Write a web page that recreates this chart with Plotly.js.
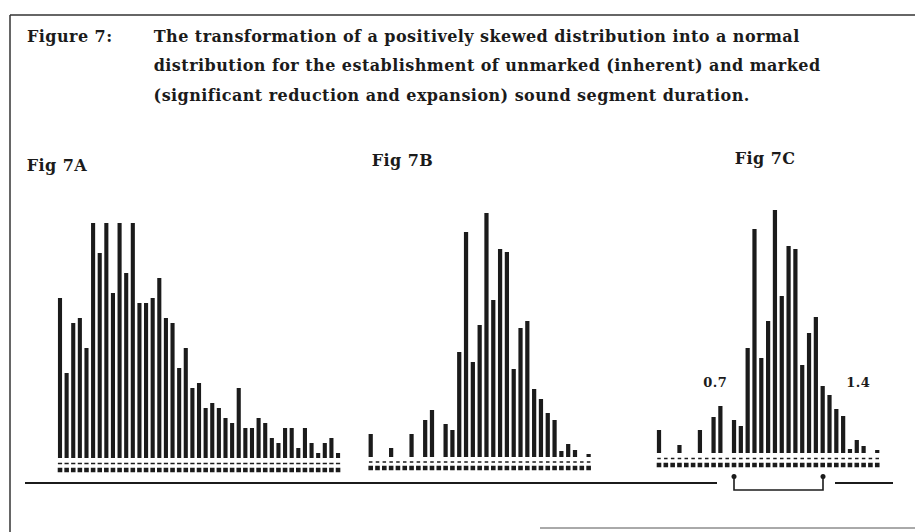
<!DOCTYPE html>
<html>
<head>
<meta charset="utf-8">
<script src="https://cdn.plot.ly/plotly-3.0.1.min.js"></script>
<style>
html,body{margin:0;padding:0;background:#fff;}
#chart{width:915px;height:532px;}
#chart .annotation-text{letter-spacing:0.45px;}
</style>
</head>
<body>
<div id="chart"></div>
<script>
// ---- Data (heights in relative frequency units) ----
const figATitle = "Fig 7A";
const figBTitle = "Fig 7B";
const figCTitle = "Fig 7C";
const captionLabel = "Figure 7:";
const captionLines = [
  "The transformation of a positively skewed distribution into a normal",
  "distribution for the establishment of unmarked (inherent) and marked",
  "(significant reduction and expansion) sound segment duration."
];
// Fig 7A: raw (positively skewed) duration distribution, 43 bins
const figABins = Array.from({length: 43}, (_, i) => i + 1);
const figAValues = [32,17,27,28,22,47,41,47,33,47,37,47,31,31,32,36,28,27,18,22,14,15,10,11,10,8,7,14,6,6,8,7,4,3,6,6,2,6,3,1,3,4,1];
// Fig 7B: transformed (normal) distribution, 33 bins
const figBBins = Array.from({length: 33}, (_, i) => i + 1);
const figBValues = [4.6,0,0,1.8,0,0,4.6,0,7.4,9.4,0,6.6,5.4,21,45,19,26.4,48.8,31.4,41.6,41,17.6,25.8,27.2,13.6,11.6,8.8,7.4,1.2,2.6,1.4,0,0.6];
// Fig 7C: same transformed distribution with marked-duration boundaries
const figCBins = Array.from({length: 33}, (_, i) => i + 1);
const figCValues = [4.6,0,0,1.6,0,0,4.6,0,7.2,9.4,0,6.6,5.4,21,44.8,19,26.4,48.6,31.4,41.4,40.8,17.6,24,27.2,13.4,11.6,8.8,7.4,0.8,2.6,1.4,0,0.6];
const lowerBoundLabel = "0.7";
const upperBoundLabel = "1.4";

// ---- helpers: pixel -> paper ----
const W = 915, H = 532;
const px = x => x / W;
const py = y => 1 - y / H;
const ink = "#1b1b1b";
const LS = 0.45; // css letter-spacing used on annotation text

function barTrace(bins, vals, xa, ya) {
  return {type: "bar", x: bins, y: vals, xaxis: xa, yaxis: ya,
    marker: {color: ink, line: {width: 0}}, hoverinfo: "x+y"};
}
function dotRow(bins, level, xa, ya, sym, size) {
  return {type: "scatter", mode: "markers", x: bins, y: bins.map(() => level),
    xaxis: xa, yaxis: ya, hoverinfo: "skip",
    marker: {symbol: sym, size: size, color: ink, line: {color: ink, width: 1.4}}};
}

const traces = [
  barTrace(figABins, figAValues, "x", "y"),
  dotRow(figABins, -1.1, "x", "y", "line-ew", 3),
  dotRow(figABins, -2.4, "x", "y", "square", 3.2),
  barTrace(figBBins, figBValues, "x2", "y2"),
  dotRow(figBBins, -1.0, "x2", "y2", "line-ew", 2.5),
  dotRow(figBBins, -2.2, "x2", "y2", "square", 3.2),
  barTrace(figCBins, figCValues, "x3", "y3"),
  dotRow(figCBins, -1.1, "x3", "y3", "line-ew", 2.5),
  dotRow(figCBins, -2.4, "x3", "y3", "square", 3.2)
];

const hidden = {showgrid: false, zeroline: false, showticklabels: false, showline: false, ticks: "", fixedrange: true};
// axis geometry: 5 px per unit, range [-4, 50]
function yDom(baseline) { return [py(baseline + 20), py(baseline - 250)]; }
function xDom(first, step, n) { return [px(first - step / 2), px(first + (n - 0.5) * step)]; }

const layout = {
  width: W, height: H,
  margin: {l: 0, r: 0, t: 0, b: 0, pad: 0},
  paper_bgcolor: "#fff", plot_bgcolor: "rgba(0,0,0,0)",
  showlegend: false,
  barmode: "group",
  bargap: 0.38,
  xaxis: Object.assign({}, hidden, {domain: xDom(60, 6.62, 43), range: [0.5, 43.5], anchor: "y"}),
  yaxis: Object.assign({}, hidden, {domain: yDom(458), range: [-4, 50], anchor: "x"}),
  xaxis2: Object.assign({}, hidden, {domain: xDom(370.7, 6.81, 33), range: [0.5, 33.5], anchor: "y2"}),
  yaxis2: Object.assign({}, hidden, {domain: yDom(457), range: [-4, 50], anchor: "x2"}),
  xaxis3: Object.assign({}, hidden, {domain: xDom(659, 6.82, 33), range: [0.5, 33.5], anchor: "y3"}),
  yaxis3: Object.assign({}, hidden, {domain: yDom(453), range: [-4, 50], anchor: "x3"}),
  font: {family: "DejaVu Serif, Liberation Serif, serif", color: ink},
  shapes: [
    // frame
    {type: "line", xref: "paper", yref: "paper", x0: px(10), x1: px(10), y0: py(15), y1: py(532), line: {color: "#333", width: 1.5}},
    {type: "line", xref: "paper", yref: "paper", x0: px(10), x1: px(915), y0: py(15), y1: py(15), line: {color: "#333", width: 1.5}},
    {type: "line", xref: "paper", yref: "paper", x0: px(540), x1: px(915), y0: py(528), y1: py(528), line: {color: "#555", width: 1}},
    // duration axis line
    {type: "line", xref: "paper", yref: "paper", x0: px(25), x1: px(717), y0: py(483), y1: py(483), line: {color: ink, width: 2}},
    {type: "line", xref: "paper", yref: "paper", x0: px(835), x1: px(893), y0: py(483), y1: py(483), line: {color: ink, width: 2}},
    // bracket for unmarked range
    {type: "path", xref: "paper", yref: "paper",
     path: `M ${px(734)} ${py(477)} L ${px(734)} ${py(490)} L ${px(823)} ${py(490)} L ${px(823)} ${py(477)}`,
     line: {color: ink, width: 1.6}},
    {type: "circle", xref: "paper", yref: "paper", x0: px(731.5), x1: px(736.5), y0: py(474), y1: py(479), fillcolor: ink, line: {width: 0}},
    {type: "circle", xref: "paper", yref: "paper", x0: px(820.5), x1: px(825.5), y0: py(474), y1: py(479), fillcolor: ink, line: {width: 0}}
  ],
  annotations: []
};

// left-anchored text; shift compensates the css letter-spacing not seen by plotly's centring
const ann = (text, x, y, size, opts) => Object.assign({
  text: text, xref: "paper", yref: "paper", x: px(x + text.length * LS / 2), y: py(y),
  xanchor: "left", yanchor: "middle", showarrow: false,
  font: {family: "DejaVu Serif, Liberation Serif, serif", size: size, color: ink, weight: "bold"}
}, opts || {});

layout.annotations.push(ann(captionLabel, 25, 36, 16));
captionLines.forEach((t, i) => layout.annotations.push(ann(t, 152, 36 + i * 29.5, 16)));
layout.annotations.push(ann(figATitle, 25, 166, 16));
layout.annotations.push(ann(figBTitle, 370, 161, 16));
layout.annotations.push(ann(figCTitle, 733, 158, 16));
layout.annotations.push(ann(lowerBoundLabel, 715, 382, 13, {xanchor: "center", x: px(715)}));
layout.annotations.push(ann(upperBoundLabel, 858, 382, 13, {xanchor: "center", x: px(858)}));

Plotly.newPlot("chart", traces, layout, {staticPlot: true, displayModeBar: false});
</script>
</body>
</html>
